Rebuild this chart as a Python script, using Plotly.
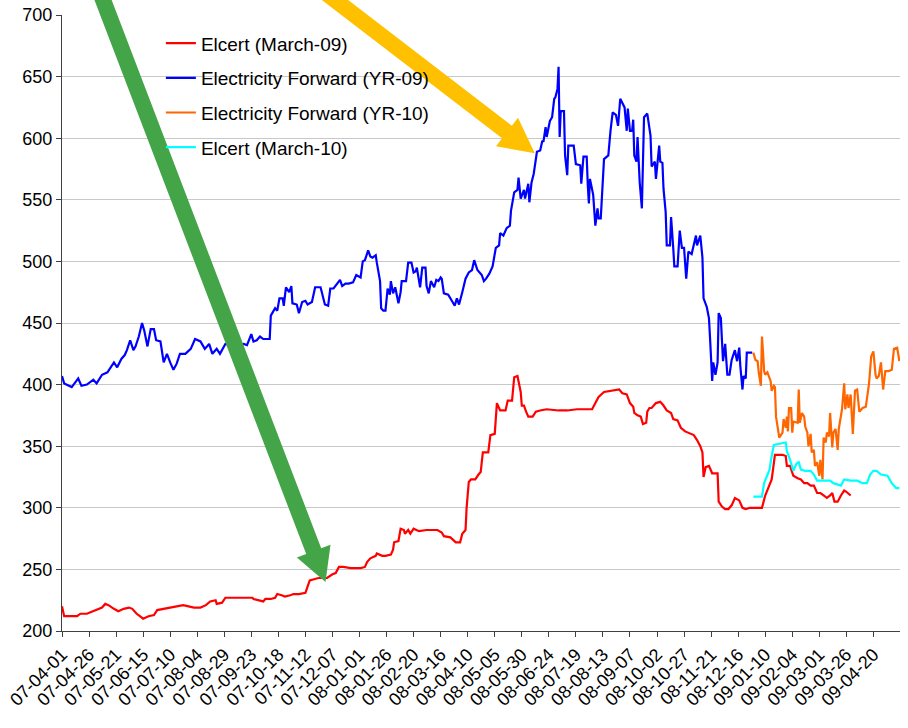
import pandas as pd
import plotly.graph_objects as go

START = "2007-04-01"

# ---- data: day offsets from 2007-04-01 and values ----
elcert09_days = [0, 2, 14, 17, 23, 28, 32, 37, 40, 43, 48, 52, 57, 62, 65, 69, 72, 75, 80, 85, 88, 94, 97, 105,
                 112, 117, 122, 128, 133, 137, 142, 143, 148, 151, 160, 176, 177, 183, 186, 188, 193, 197, 199,
                 203, 206, 211, 214, 219, 225, 227, 229, 233, 237, 245, 250, 253, 256, 260, 267, 276, 280, 282,
                 285, 290, 291, 296, 299, 304, 306, 307, 311, 313, 316, 317, 320, 322, 325, 330, 337, 347, 351,
                 353, 359, 364, 368, 370, 373, 374, 376, 378, 382, 385, 387, 389, 394, 396, 400, 402, 405, 410,
                 412, 416, 418, 421, 424, 425, 427, 429, 431, 435, 438, 442, 448, 459, 467, 476, 490, 493, 496,
                 501, 507, 512, 515, 518, 522, 525, 528, 529, 532, 535, 537, 540, 541, 543, 545, 549, 553, 556,
                 559, 563, 565, 569, 572, 576, 581, 584, 587, 590, 592, 593, 595, 598, 601, 606, 607, 610, 613,
                 616, 619, 622, 626, 629, 632, 636, 639, 647, 650, 653, 656, 659, 666, 669, 670, 673, 676, 680,
                 683, 686, 689, 692, 695, 698, 701, 704, 707, 710, 712, 714, 717, 720, 723, 725, 729]
elcert09_vals = [220, 212, 212, 214, 214, 216, 217, 219, 222, 221, 218, 216, 218, 219, 218, 214, 212, 210, 212, 213,
                 217, 218, 219, 220, 221, 220, 219, 219, 221, 224, 225, 222, 223, 227, 227, 227, 226, 225, 224,
                 226, 226, 227, 230, 229, 228, 229, 230, 230, 231, 236, 241, 242, 243, 243, 246, 247, 252, 252,
                 251, 251, 252, 256, 259, 261, 263, 261, 261, 262, 266, 272, 273, 283, 282, 279, 282, 279, 283,
                 281, 282, 282, 280, 277, 276, 272, 272, 279, 282, 300, 321, 323, 323, 327, 329, 345, 345, 359,
                 360, 385, 379, 379, 387, 387, 406, 407, 394, 383, 383, 378, 374, 374, 378, 379, 380, 379, 379,
                 380, 380, 385, 390, 394, 395, 396, 396, 393, 392, 385, 382, 377, 375, 374, 368, 369, 378, 381,
                 381, 385, 386, 383, 379, 377, 372, 371, 365, 362, 360, 359, 355, 350, 345, 325, 333, 334, 328,
                 328, 305, 301, 299, 299, 302, 308, 306, 300, 299, 300, 300, 300, 310, 316, 323, 343, 343, 342,
                 334, 334, 326, 324, 323, 320, 320, 318, 318, 312, 312, 310, 308, 310, 312, 305, 305, 310, 314,
                 313, 310]

fwd09_days = [0, 2, 9, 15, 18, 23, 29, 32, 37, 42, 48, 51, 55, 58, 60, 63, 66, 68, 71, 74, 76, 79, 82, 85, 87, 91,
              94, 97, 100, 103, 106, 109, 114, 119, 123, 128, 132, 136, 139, 143, 146, 151, 156, 160, 163, 168,
              171, 175, 177, 180, 183, 186, 192, 193, 197, 199, 201, 204, 205, 207, 210, 212, 213, 217, 219, 222,
              225, 227, 231, 234, 239, 240, 243, 246, 248, 251, 254, 257, 259, 262, 265, 269, 272, 276, 278, 280,
              283, 285, 287, 290, 291, 294, 295, 297, 299, 301, 303, 304, 306, 308, 311, 313, 314, 318, 320, 323,
              325, 327, 328, 331, 333, 336, 337, 339, 341, 344, 346, 348, 350, 351, 353, 357, 361, 363, 365, 367,
              370, 373, 376, 379, 381, 384, 388, 390, 392, 395, 398, 401, 404, 405, 408, 411, 414, 415, 418, 421,
              422, 424, 427, 428, 431, 432, 434, 436, 439, 442, 444, 445, 447, 448, 451, 453, 455, 456, 458, 459,
              460, 461, 464, 465, 467, 468, 473, 475, 479, 480, 482, 485, 486, 487, 488, 491, 493, 495, 496, 498,
              501, 505, 507, 509, 512, 514, 516, 519, 520, 522, 523, 525, 527, 528, 529, 531, 532, 534, 536, 538,
              541, 544, 545, 548, 549, 552, 553, 555, 556, 558, 559, 562, 563, 565, 566, 569, 571, 573, 575, 577,
              579, 582, 586, 587, 590, 592, 593, 596, 598, 599, 601, 602, 604, 606, 607, 609, 611, 613, 615, 617,
              619, 622, 624, 626, 627, 629, 630, 632, 633, 638]
fwd09_vals = [407, 401, 398, 405, 399, 400, 404, 401, 408, 410, 418, 414, 421, 424, 428, 436, 428, 431, 439, 450,
              444, 431, 445, 445, 436, 435, 418, 425, 418, 412, 417, 425, 425, 429, 437, 435, 429, 433, 425, 429,
              425, 433, 432, 435, 432, 433, 432, 441, 435, 436, 439, 437, 437, 456, 462, 460, 470, 470, 464, 479,
              475, 480, 466, 465, 458, 467, 468, 465, 467, 479, 479, 476, 465, 464, 478, 478, 482, 485, 480, 482,
              482, 483, 489, 487, 500, 501, 509, 504, 503, 505, 499, 484, 462, 460, 460, 478, 473, 484, 474, 479,
              466, 475, 484, 484, 499, 499, 491, 492, 495, 479, 495, 495, 480, 474, 484, 479, 485, 484, 487, 486,
              474, 473, 467, 464, 470, 465, 475, 486, 491, 493, 501, 493, 489, 484, 486, 490, 496, 511, 513, 523,
              521, 527, 529, 541, 556, 558, 568, 551, 558, 551, 563, 548, 564, 571, 589, 590, 598, 597, 609, 601,
              614, 617, 632, 633, 640, 658, 601, 622, 622, 586, 570, 594, 594, 579, 578, 563, 585, 585, 562, 547,
              567, 554, 529, 543, 535, 535, 583, 586, 606, 621, 619, 610, 632, 626, 625, 606, 624, 606, 606, 615,
              586, 581, 601, 564, 543, 617, 620, 602, 577, 581, 567, 594, 581, 580, 559, 540, 513, 513, 536, 511,
              496, 496, 525, 511, 511, 486, 508, 506, 521, 513, 521, 503, 470, 463, 454, 438, 403, 418, 408, 418,
              458, 454, 419, 433, 408, 408, 420, 428, 419, 430, 415, 396, 407, 405, 426, 426]

fwd10_days = [639, 641, 643, 644, 646, 647, 648, 649, 650, 652, 655, 656, 658, 659, 660, 662, 663, 666, 667, 669,
              670, 671, 672, 674, 675, 676, 680, 681, 682, 684, 686, 687, 689, 690, 692, 693, 695, 696, 698, 700,
              701, 703, 704, 706, 707, 709, 710, 712, 713, 715, 717, 718, 720, 721, 723, 724, 726, 727, 729, 731,
              733, 735, 737, 740, 743, 746, 748, 750, 752, 753, 755, 757, 759, 761, 764, 767, 769, 772, 774]
fwd10_vals = [426, 420, 419, 410, 399, 439, 426, 411, 408, 410, 403, 395, 399, 398, 374, 364, 357, 361, 372, 365,
              374, 362, 381, 381, 361, 370, 369, 396, 369, 377, 374, 366, 361, 350, 360, 345, 347, 334, 337, 326,
              339, 323, 357, 353, 361, 358, 377, 349, 361, 364, 347, 364, 377, 380, 401, 380, 392, 381, 392, 360,
              395, 396, 378, 381, 382, 401, 423, 427, 408, 405, 407, 418, 396, 411, 411, 412, 429, 430, 419]

elcert10_days = [639, 647, 649, 652, 654, 656, 658, 663, 669, 670, 673, 676, 679, 681, 683, 687, 692, 695, 698, 704,
                 710, 713, 717, 720, 723, 729, 735, 740, 744, 747, 750, 753, 757, 763, 767, 771, 774]
elcert10_vals = [309, 309, 320, 326, 331, 342, 351, 352, 353, 346, 339, 330, 336, 337, 331, 330, 330, 327, 322, 322,
                 322, 320, 319, 318, 323, 322, 322, 320, 320, 327, 330, 330, 327, 326, 320, 316, 316]

series_names = ["Elcert (March-09)", "Electricity Forward (YR-09)",
                "Electricity Forward (YR-10)", "Elcert (March-10)"]
series_colors = ["#FF0000", "#0000FF", "#FF6600", "#00FFFF"]
series_days = [elcert09_days, fwd09_days, fwd10_days, elcert10_days]
series_vals = [elcert09_vals, fwd09_vals, fwd10_vals, elcert10_vals]

X_END_DAYS = 774.6
TICK_STEP_DAYS = 25


def to_dates(days):
    return pd.Timestamp(START) + pd.to_timedelta(days, unit="D")


fig = go.Figure()
for i, (name, col, d, v) in enumerate(zip(series_names, series_colors, series_days, series_vals)):
    fig.add_trace(go.Scatter(x=to_dates(d), y=v, mode="lines", name=name,
                             legendgroup=f"g{i}",
                             line=dict(color=col, width=2.2)))

# ---- layout ----
W, H = 908, 728
ML, MR, MT, MB = 62, 8, 15, 97
PW, PH = W - ML - MR, H - MT - MB


def pp(px, py):
    """page pixel -> paper fraction"""
    return (px - ML) / PW, (H - MB - py) / PH


def arrow_path(points):
    parts = []
    for k, (x, y) in enumerate(points):
        fx, fy = pp(x, y)
        parts.append(("M" if k == 0 else "L") + f"{fx:.5f},{fy:.5f}")
    return " ".join(parts) + " Z"


green_pts = [(87.9, -17.1), (306.2, 554.1), (296.9, 557.6), (325.5, 582.0),
             (330.5, 544.8), (321.2, 548.3), (102.9, -22.9)]
orange_pts = [(304.0, -13.65), (502.1, 138.3), (496.0, 146.3), (534.8, 153.3),
              (518.0, 117.7), (511.9, 125.7), (313.8, -26.35)]

shapes = [
    dict(type="path", xref="paper", yref="paper", path=arrow_path(green_pts),
         fillcolor="#43A548", line=dict(width=0), layer="above"),
    dict(type="path", xref="paper", yref="paper", path=arrow_path(orange_pts),
         fillcolor="#FFC000", line=dict(width=0), layer="above"),
]

FONT = "Liberation Sans, Arial, sans-serif"

fig.update_layout(
    width=W, height=H,
    margin=dict(l=ML, r=MR, t=MT, b=MB, pad=0),
    paper_bgcolor="white", plot_bgcolor="white",
    font=dict(family=FONT, size=18, color="black"),
    showlegend=True,
    legend=dict(x=0.118, y=0.985, xanchor="left", yanchor="top",
                bgcolor="rgba(0,0,0,0)", borderwidth=0,
                font=dict(family=FONT, size=19, color="black"),
                tracegroupgap=7, traceorder="grouped"),
    shapes=shapes,
    xaxis=dict(
        type="date",
        range=[to_dates([0])[0], to_dates([X_END_DAYS])[0]],
        tickmode="linear", tick0=START, dtick=TICK_STEP_DAYS * 86400000,
        tickformat="%y-%m-%d", tickangle=-45,
        ticks="outside", ticklen=5, tickcolor="#404040",
        showline=True, linecolor="#404040", linewidth=1,
        showgrid=False, zeroline=False, automargin=False,
        ticklabeloverflow="allow",
        tickfont=dict(family=FONT, size=18, color="black"),
    ),
    yaxis=dict(
        range=[200, 700], tickmode="linear", tick0=200, dtick=50,
        ticks="outside", ticklen=5, tickcolor="#404040",
        showline=True, linecolor="#404040", linewidth=1,
        showgrid=True, gridcolor="#C8C8C8", gridwidth=1,
        zeroline=False, automargin=False,
        ticklabeloverflow="allow",
        tickfont=dict(family=FONT, size=18, color="black"),
    ),
)

fig.write_html("out.html", config={"displayModeBar": False},
               post_script="document.body.style.margin='0';document.body.style.overflow='hidden';")
